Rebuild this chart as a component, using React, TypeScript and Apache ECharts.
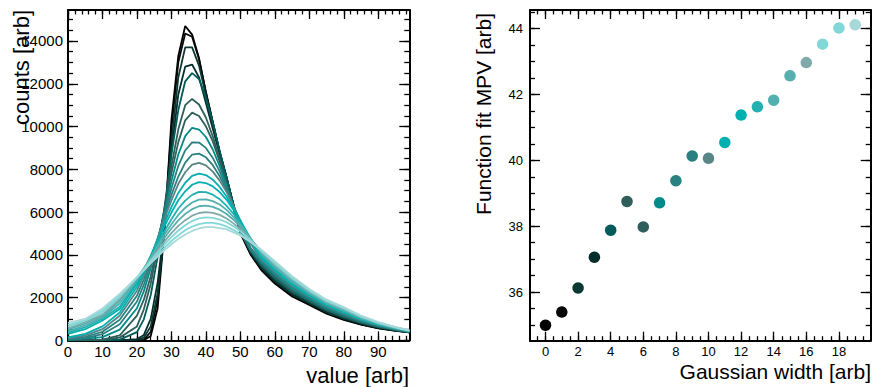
import React, { useEffect, useRef } from "react";
import * as echarts from "echarts";

// ---------- data ----------
const binCenters = [0, 5, 10, 15, 20, 22, 24, 26, 28, 30, 32, 34, 36, 38, 40, 42, 44, 46, 48, 50, 53, 56, 60, 65, 70, 75, 80, 85, 90, 95, 99];

const h0 = [0, 0, 0, 0, 0, 0, 200, 1500, 5200, 10300, 13300, 14700, 14300, 13200, 11600, 10200, 8800, 7600, 6300, 5000, 4000, 3300, 2650, 2050, 1650, 1250, 950, 730, 560, 440, 370];
const h1 = [0, 0, 0, 0, 0, 20, 400, 1900, 5300, 9900, 13000, 14350, 14200, 13150, 11600, 10200, 8800, 7600, 6300, 5050, 4050, 3350, 2705, 2100, 1690, 1285, 980, 750, 575, 450, 372];
const h2 = [0, 0, 0, 0, 20, 120, 650, 2200, 5200, 9300, 12300, 13700, 13700, 12850, 11450, 10150, 8800, 7600, 6350, 5100, 4100, 3400, 2760, 2150, 1730, 1320, 1010, 775, 590, 460, 377];
const h3 = [0, 0, 0, 0, 50, 250, 1000, 2700, 5400, 8800, 11500, 12800, 12900, 12300, 11100, 9900, 8700, 7550, 6350, 5150, 4150, 3450, 2815, 2200, 1770, 1350, 1045, 795, 605, 470, 382];
const h4 = [0, 0, 0, 30, 380, 980, 2120, 3900, 6220, 8680, 10770, 12115, 12500, 12220, 11345, 10190, 8850, 7630, 6300, 5100, 4150, 3500, 2871, 2250, 1808, 1387, 1076, 818, 621, 478, 388];
const h5 = [0, 0, 17, 125, 650, 1450, 2650, 4300, 6170, 8140, 9870, 11000, 11290, 11030, 10420, 9530, 8500, 7400, 6150, 5050, 4200, 3550, 2926, 2300, 1847, 1421, 1108, 841, 636, 487, 392];
const h6 = [0, 5, 35, 230, 1150, 1900, 3000, 4500, 6150, 7810, 9270, 10290, 10650, 10490, 10010, 9300, 8350, 7290, 6150, 5060, 4190, 3600, 2982, 2350, 1887, 1455, 1139, 863, 652, 497, 397];
const h7 = [25, 75, 150, 500, 1500, 2300, 3380, 4640, 6040, 7440, 8690, 9550, 9940, 9860, 9510, 8925, 8140, 7230, 6250, 5240, 4221, 3650, 3037, 2400, 1926, 1489, 1171, 885, 667, 506, 402];
const h8 = [42, 107, 284, 753, 1815, 2600, 3580, 4715, 5925, 7100, 8160, 8880, 9260, 9250, 9000, 8530, 7900, 7120, 6280, 5380, 4253, 3700, 3092, 2450, 1966, 1524, 1203, 907, 682, 516, 407];
const h9 = [70, 158, 400, 960, 2085, 2850, 3750, 4760, 5800, 6800, 7660, 8310, 8690, 8730, 8560, 8190, 7670, 7000, 6290, 5500, 4315, 3750, 3147, 2500, 2005, 1558, 1234, 929, 697, 525, 412];
const h10 = [100, 228, 520, 1145, 2320, 3060, 3885, 4770, 5690, 6540, 7320, 7860, 8215, 8300, 8180, 7890, 7470, 6930, 6290, 5600, 4520, 3800, 3203, 2550, 2045, 1592, 1266, 951, 713, 535, 418];
const h11 = [140, 300, 650, 1300, 2510, 3200, 3925, 4700, 5500, 6225, 6895, 7370, 7690, 7800, 7730, 7510, 7175, 6730, 6180, 5585, 4640, 3850, 3258, 2600, 2084, 1626, 1297, 973, 728, 544, 423];
const h12 = [296, 518, 925, 1460, 2660, 3285, 3960, 4660, 5340, 5975, 6550, 6970, 7275, 7400, 7355, 7200, 6930, 6570, 6100, 5590, 4750, 3900, 3313, 2650, 2124, 1661, 1329, 995, 743, 554, 428];
const h13 = [355, 612, 1015, 1570, 2750, 3315, 3905, 4520, 5110, 5660, 6165, 6535, 6800, 6940, 6930, 6810, 6600, 6290, 5920, 5475, 4745, 3970, 3368, 2700, 2163, 1695, 1361, 1017, 758, 563, 433];
const h14 = [423, 700, 1080, 1720, 2830, 3345, 3880, 4425, 4950, 5425, 5865, 6200, 6445, 6580, 6590, 6510, 6350, 6100, 5775, 5400, 4755, 4070, 3424, 2750, 2203, 1729, 1392, 1039, 774, 573, 439];
const h15 = [500, 795, 1135, 1850, 2890, 3365, 3850, 4335, 4800, 5230, 5610, 5910, 6135, 6270, 6300, 6240, 6110, 5910, 5640, 5320, 4755, 4140, 3479, 2800, 2242, 1763, 1424, 1062, 789, 582, 444];
const h16 = [565, 860, 1200, 1950, 2920, 3350, 3790, 4215, 4625, 5010, 5350, 5620, 5830, 5955, 6000, 5965, 5865, 5700, 5470, 5195, 4710, 4165, 3534, 2850, 2282, 1797, 1455, 1084, 804, 592, 449];
const h17 = [633, 920, 1300, 2035, 2940, 3330, 3725, 4115, 4485, 4830, 5135, 5380, 5580, 5705, 5750, 5730, 5650, 5520, 5330, 5100, 4680, 4185, 3589, 2900, 2321, 1832, 1487, 1106, 819, 601, 454];
const h18 = [705, 950, 1395, 2100, 2945, 3300, 3660, 4005, 4335, 4645, 4915, 5145, 5320, 5435, 5495, 5490, 5435, 5325, 5165, 4965, 4605, 4200, 3645, 2950, 2361, 1866, 1518, 1128, 835, 611, 460];
const h19 = [820, 1000, 1485, 2165, 2940, 3275, 3605, 3920, 4220, 4495, 4745, 4950, 5115, 5230, 5290, 5295, 5250, 5200, 5050, 4900, 4600, 4250, 3700, 3000, 2400, 1900, 1550, 1150, 850, 620, 465];

const histCounts = [h0, h1, h2, h3, h4, h5, h6, h7, h8, h9, h10, h11, h12, h13, h14, h15, h16, h17, h18, h19];

const gaussWidths = [0, 1, 2, 3, 4, 5, 6, 7, 8, 9, 10, 11, 12, 13, 14, 15, 16, 17, 18, 19];
const fitMPV = [35.0, 35.4, 36.13, 37.06, 37.88, 38.75, 37.98, 38.71, 39.38, 40.13, 40.06, 40.54, 41.37, 41.62, 41.82, 42.56, 42.96, 43.52, 44.01, 44.11];

const leftXTicks = [0, 10, 20, 30, 40, 50, 60, 70, 80, 90];
const leftYTicks = [0, 2000, 4000, 6000, 8000, 10000, 12000, 14000];
const rightXTicks = [0, 2, 4, 6, 8, 10, 12, 14, 16, 18];
const rightYTicks = [36, 38, 40, 42, 44];

// ---------- styles ----------
const palette = [
  "#000000", "#080808", "#0b3832", "#042e2b", "#005c5a",
  "#2e5f5b", "#2e5f5b", "#008a8a", "#2a8181", "#2a8080",
  "#588585", "#00b0b0", "#00b0b0", "#22b0b0", "#52b0b0",
  "#55afaf", "#80aaaa", "#80d8d8", "#82d8d8", "#a8d8d8",
];

const FONT = "'Liberation Sans', Arial, Helvetica, sans-serif";

function steps(a: number, b: number, s: number): number[] {
  const out: number[] = [];
  for (let i = 0; a + i * s <= b + 1e-9; i++) out.push(+(a + i * s).toFixed(4));
  return out;
}

type AxisOpt = {
  grid: number;
  pos: string;
  min: number;
  max: number;
  ticks: number[];
  len: number;
  labels?: number[];
  fontSize?: number;
  margin?: number;
  line?: boolean;
};

function mkAxis(o: AxisOpt) {
  return {
    type: "value",
    gridIndex: o.grid,
    position: o.pos,
    min: o.min,
    max: o.max,
    axisLine: { show: !!o.line, onZero: false, lineStyle: { color: "#000", width: 2 } },
    axisTick: {
      show: true,
      inside: true,
      length: o.len,
      customValues: o.ticks,
      lineStyle: { color: "#000", width: 1.3 },
    },
    axisLabel: o.labels
      ? {
          show: true,
          customValues: o.labels,
          fontSize: o.fontSize,
          fontFamily: FONT,
          color: "#000",
          margin: o.margin,
          formatter: (v: number) => String(v),
        }
      : { show: false },
    splitLine: { show: false },
    minorTick: { show: false },
    minorSplitLine: { show: false },
  };
}

export default function App() {
  const ref = useRef<HTMLDivElement>(null);

  useEffect(() => {
    document.body.style.margin = "0";
    if (!ref.current) return;
    const chart = echarts.init(ref.current, undefined, { renderer: "svg" });

    const LX = { min: 0, max: 99 };
    const LY = { min: 0, max: 15450 };
    const RX = { min: -0.95, max: 19.95 };
    const RY = { min: 34.53, max: 44.555 };

    const lxMinor = steps(0, 98, 2);
    const lyMinor = steps(0, 15000, 500);
    const rxMinor = steps(-0.5, 19.5, 0.5);
    const ryMinor = steps(35, 44.5, 0.5);

    const xAxis = [
      mkAxis({ grid: 0, pos: "bottom", ...LX, ticks: leftXTicks, len: 9, labels: leftXTicks, fontSize: 15, margin: 4, line: true }),
      mkAxis({ grid: 0, pos: "bottom", ...LX, ticks: lxMinor, len: 4.5 }),
      mkAxis({ grid: 0, pos: "top", ...LX, ticks: leftXTicks, len: 9, line: true }),
      mkAxis({ grid: 0, pos: "top", ...LX, ticks: lxMinor, len: 4.5 }),
      mkAxis({ grid: 1, pos: "bottom", ...RX, ticks: rightXTicks, len: 9, labels: rightXTicks, fontSize: 13, margin: 4, line: true }),
      mkAxis({ grid: 1, pos: "bottom", ...RX, ticks: rxMinor, len: 4.5 }),
      mkAxis({ grid: 1, pos: "top", ...RX, ticks: rightXTicks, len: 9, line: true }),
      mkAxis({ grid: 1, pos: "top", ...RX, ticks: rxMinor, len: 4.5 }),
    ];
    const yAxis = [
      mkAxis({ grid: 0, pos: "left", ...LY, ticks: leftYTicks, len: 10, labels: leftYTicks, fontSize: 15, margin: 5, line: true }),
      mkAxis({ grid: 0, pos: "left", ...LY, ticks: lyMinor, len: 5 }),
      mkAxis({ grid: 0, pos: "right", ...LY, ticks: leftYTicks, len: 10, line: true }),
      mkAxis({ grid: 0, pos: "right", ...LY, ticks: lyMinor, len: 5 }),
      mkAxis({ grid: 1, pos: "left", ...RY, ticks: rightYTicks, len: 10, labels: rightYTicks, fontSize: 13, margin: 7, line: true }),
      mkAxis({ grid: 1, pos: "left", ...RY, ticks: ryMinor, len: 5 }),
      mkAxis({ grid: 1, pos: "right", ...RY, ticks: rightYTicks, len: 10, line: true }),
      mkAxis({ grid: 1, pos: "right", ...RY, ticks: ryMinor, len: 5 }),
    ];

    const lineSeries = histCounts.map((counts, k) => ({
      type: "line",
      name: "sigma " + gaussWidths[k],
      xAxisIndex: 0,
      yAxisIndex: 0,
      data: binCenters.map((x, i) => [x, counts[i]]),
      showSymbol: false,
      symbol: "none",
      silent: true,
      lineStyle: { color: palette[k], width: 1.8 },
      z: 2,
    }));

    const scatterSeries = {
      type: "scatter",
      xAxisIndex: 4,
      yAxisIndex: 4,
      symbolSize: 11.5,
      data: gaussWidths.map((w, i) => ({ value: [w, fitMPV[i]], itemStyle: { color: palette[i], opacity: 1 } })),
      z: 3,
    };

    const titleStyle = (text: string, align: string, size: number) => ({
      text,
      font: `${size}px ${FONT}`,
      fill: "#000",
      align,
      textAlign: align,
      verticalAlign: "middle",
      textVerticalAlign: "middle",
    });

    chart.setOption({
      animation: false,
      backgroundColor: "#fff",
      grid: [
        { left: 68, right: 462.7, top: 10, bottom: 46.7, containLabel: false },
        { left: 530, right: 1.3, top: 10, bottom: 46.3, containLabel: false },
      ],
      xAxis,
      yAxis,
      series: [...lineSeries, scatterSeries],
      graphic: [
        { type: "text", x: 409, y: 375, style: titleStyle("value [arb]", "right", 22) },
        { type: "text", x: 21, y: 10, rotation: Math.PI / 2, style: titleStyle("counts [arb]", "right", 22) },
        { type: "text", x: 871, y: 371, style: titleStyle("Gaussian width [arb]", "right", 21) },
        { type: "text", x: 483, y: 13, rotation: Math.PI / 2, style: titleStyle("Function fit MPV [arb]", "right", 21) },
      ],
    });

    return () => chart.dispose();
  }, []);

  return (
    <div
      ref={ref}
      style={{ position: "fixed", left: 0, top: 0, width: 872, height: 387, background: "#fff" }}
    />
  );
}
